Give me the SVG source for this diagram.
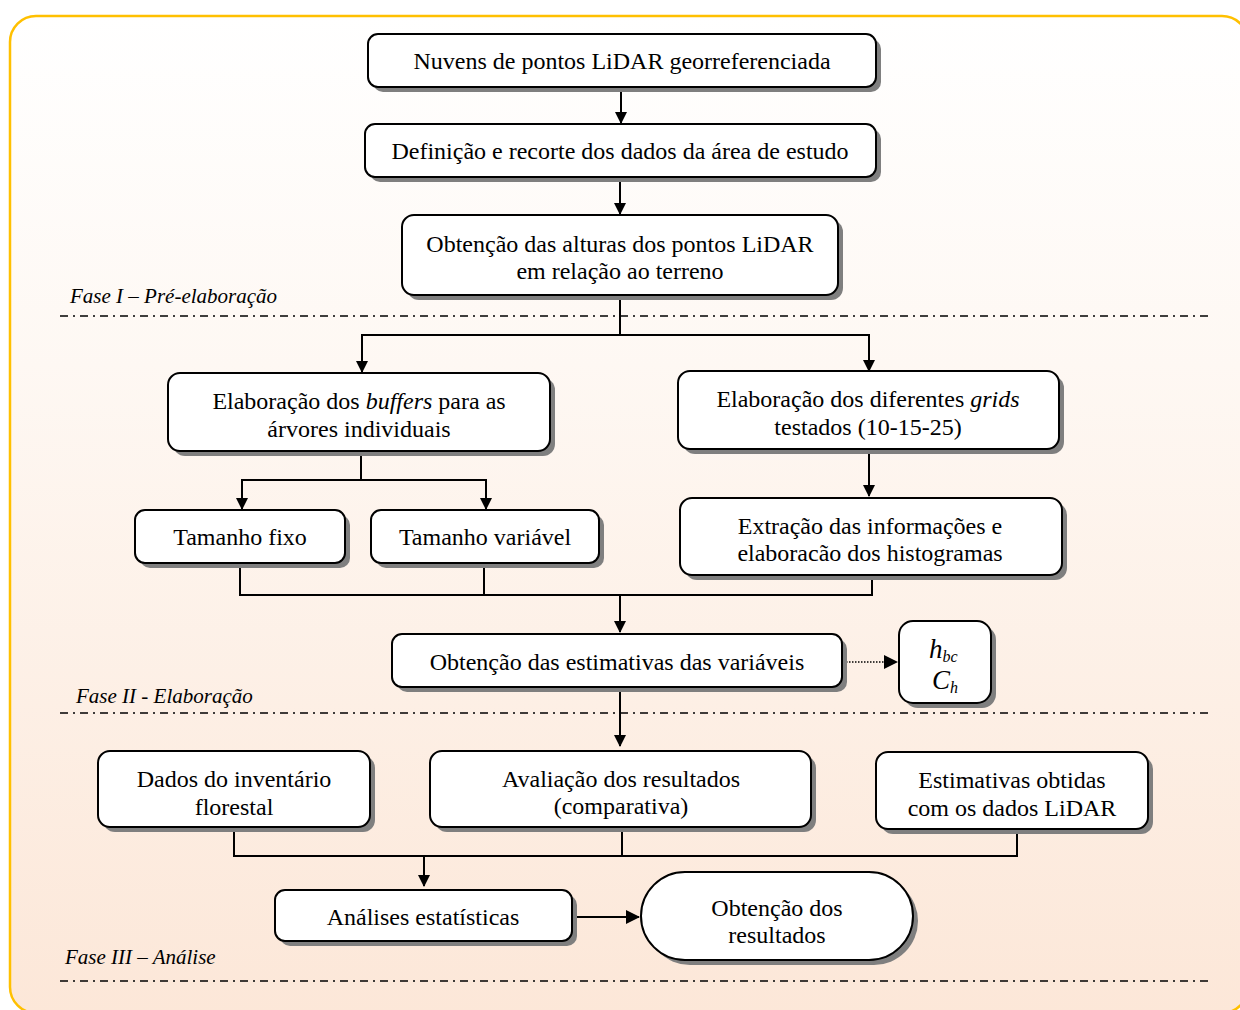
<svg xmlns="http://www.w3.org/2000/svg" width="1240" height="1010" viewBox="0 0 1240 1010">
<defs>
<linearGradient id="bg" x1="0" y1="0" x2="0" y2="1">
<stop offset="0" stop-color="#ffffff"/>
<stop offset="0.35" stop-color="#fef8f3"/>
<stop offset="1" stop-color="#fce7d8"/>
</linearGradient>
<marker id="ah" markerWidth="12" markerHeight="12" refX="11" refY="6" orient="auto" markerUnits="userSpaceOnUse">
<path d="M0,0 L12,6 L0,12 Z" fill="#000"/>
</marker>
<marker id="ahs" markerWidth="14" markerHeight="14" refX="13" refY="7" orient="auto" markerUnits="userSpaceOnUse">
<path d="M0,0 L14,7 L0,14 Z" fill="#000"/>
</marker>
</defs>
<style>
.box{fill:#fff;stroke:#000;stroke-width:2}
.sh{fill:#7f7f7f}
.t{font-family:"Liberation Serif","Times New Roman",serif;font-size:24px;fill:#000;text-anchor:middle}
.lbl{font-family:"Liberation Serif","Times New Roman",serif;font-size:21px;font-style:italic;fill:#000}
.c{fill:none;stroke:#000;stroke-width:2}
.dd{fill:none;stroke:#000;stroke-width:1.5;stroke-dasharray:8 5 2 5}
</style>
<rect x="10" y="16" width="1238" height="997" rx="26" fill="url(#bg)" stroke="#ffc000" stroke-width="2.5"/>

<g id="phases">
<text class="lbl" x="70" y="303">Fase I – Pré-elaboração</text>
<line class="dd" x1="60" y1="316" x2="1210" y2="316"/>
<text class="lbl" x="76" y="703">Fase II - Elaboração</text>
<line class="dd" x1="60" y1="713" x2="1210" y2="713"/>
<text class="lbl" x="65" y="964">Fase III – Análise</text>
<line class="dd" x1="60" y1="981" x2="1210" y2="981"/>
</g>

<g id="connectors">
<line class="c" x1="621" y1="87" x2="621" y2="123" marker-end="url(#ah)"/>
<line class="c" x1="620" y1="177" x2="620" y2="214" marker-end="url(#ah)"/>
<polyline class="c" points="620,295 620,335"/>
<polyline class="c" points="362,372 362,335 869,335 869,371" marker-end="url(#ah)"/>
<line class="c" x1="362" y1="336" x2="362" y2="372" marker-end="url(#ah)"/>
<line class="c" x1="361" y1="451" x2="361" y2="480"/>
<polyline class="c" points="242,509 242,480 486,480 486,509" marker-end="url(#ah)"/>
<line class="c" x1="242" y1="481" x2="242" y2="509" marker-end="url(#ah)"/>
<line class="c" x1="869" y1="449" x2="869" y2="496" marker-end="url(#ah)"/>
<polyline class="c" points="240,567 240,595 872,595 872,575"/>
<line class="c" x1="484" y1="567" x2="484" y2="595"/>
<line class="c" x1="620" y1="595" x2="620" y2="632" marker-end="url(#ah)"/>
<line fill="none" stroke="#000" stroke-width="1.3" stroke-dasharray="1.5 1.5" x1="846" y1="662" x2="897" y2="662" marker-end="url(#ahs)"/>
<line class="c" x1="620" y1="687" x2="620" y2="746" marker-end="url(#ah)"/>
<polyline class="c" points="234,827 234,856 1017,856 1017,829"/>
<line class="c" x1="622" y1="827" x2="622" y2="856"/>
<line class="c" x1="424" y1="856" x2="424" y2="886" marker-end="url(#ah)"/>
<line class="c" x1="572" y1="917" x2="639" y2="917" marker-end="url(#ahs)"/>
</g>

<g id="n1"><rect class="sh" x="373" y="39" width="508" height="53" rx="10"/><rect class="box" x="368" y="34" width="508" height="53" rx="10"/><text class="t" x="622" y="69">Nuvens de pontos LiDAR georreferenciada</text></g>
<g id="n2"><rect class="sh" x="370" y="129" width="511" height="53" rx="10"/><rect class="box" x="365" y="124" width="511" height="53" rx="10"/><text class="t" x="620" y="159">Definição e recorte dos dados da área de estudo</text></g>
<g id="n3"><rect class="sh" x="407" y="220" width="436" height="80" rx="12"/><rect class="box" x="402" y="215" width="436" height="80" rx="12"/><text class="t" x="620" y="252">Obtenção das alturas dos pontos LiDAR</text><text class="t" x="620" y="279">em relação ao terreno</text></g>
<g id="n4"><rect class="sh" x="173" y="378" width="382" height="78" rx="12"/><rect class="box" x="168" y="373" width="382" height="78" rx="12"/><text class="t" x="359" y="409">Elaboração dos <tspan font-style="italic">buffers</tspan> para as</text><text class="t" x="359" y="437">árvores individuais</text></g>
<g id="n5"><rect class="sh" x="683" y="376" width="381" height="78" rx="12"/><rect class="box" x="678" y="371" width="381" height="78" rx="12"/><text class="t" x="868" y="407">Elaboração dos diferentes <tspan font-style="italic">grids</tspan></text><text class="t" x="868" y="435">testados (10-15-25)</text></g>
<g id="n6"><rect class="sh" x="140" y="515" width="210" height="53" rx="10"/><rect class="box" x="135" y="510" width="210" height="53" rx="10"/><text class="t" x="240" y="545">Tamanho fixo</text></g>
<g id="n7"><rect class="sh" x="376" y="515" width="228" height="53" rx="10"/><rect class="box" x="371" y="510" width="228" height="53" rx="10"/><text class="t" x="485" y="545">Tamanho variável</text></g>
<g id="n8"><rect class="sh" x="685" y="503" width="382" height="77" rx="12"/><rect class="box" x="680" y="498" width="382" height="77" rx="12"/><text class="t" x="870" y="534">Extração das informações e</text><text class="t" x="870" y="561">elaboracão dos histogramas</text></g>
<g id="n9"><rect class="sh" x="397" y="639" width="450" height="53" rx="10"/><rect class="box" x="392" y="634" width="450" height="53" rx="10"/><text class="t" x="617" y="670">Obtenção das estimativas das variáveis</text></g>
<g id="n10"><rect class="sh" x="904" y="626" width="92" height="82" rx="14"/><rect class="box" x="899" y="621" width="92" height="82" rx="14"/>
<text x="929" y="658" font-family="Liberation Serif, serif" font-style="italic" font-size="27">h<tspan font-size="16" dy="4">bc</tspan></text>
<text x="932" y="689" font-family="Liberation Serif, serif" font-style="italic" font-size="27">C<tspan font-size="16" dy="4">h</tspan></text></g>
<g id="n11"><rect class="sh" x="103" y="756" width="272" height="76" rx="12"/><rect class="box" x="98" y="751" width="272" height="76" rx="12"/><text class="t" x="234" y="787">Dados do inventário</text><text class="t" x="234" y="815">florestal</text></g>
<g id="n12"><rect class="sh" x="435" y="756" width="381" height="76" rx="12"/><rect class="box" x="430" y="751" width="381" height="76" rx="12"/><text class="t" x="621" y="787">Avaliação dos resultados</text><text class="t" x="621" y="814">(comparativa)</text></g>
<g id="n13"><rect class="sh" x="881" y="757" width="272" height="77" rx="12"/><rect class="box" x="876" y="752" width="272" height="77" rx="12"/><text class="t" x="1012" y="788">Estimativas obtidas</text><text class="t" x="1012" y="816">com os dados LiDAR</text></g>
<g id="n14"><rect class="sh" x="280" y="895" width="297" height="51" rx="10"/><rect class="box" x="275" y="890" width="297" height="51" rx="10"/><text class="t" x="423" y="925">Análises estatísticas</text></g>
<g id="n15"><rect class="sh" x="646" y="877" width="272" height="88" rx="44"/><rect class="box" x="641" y="872" width="272" height="88" rx="44"/><text class="t" x="777" y="916">Obtenção dos</text><text class="t" x="777" y="943">resultados</text></g>
</svg>
